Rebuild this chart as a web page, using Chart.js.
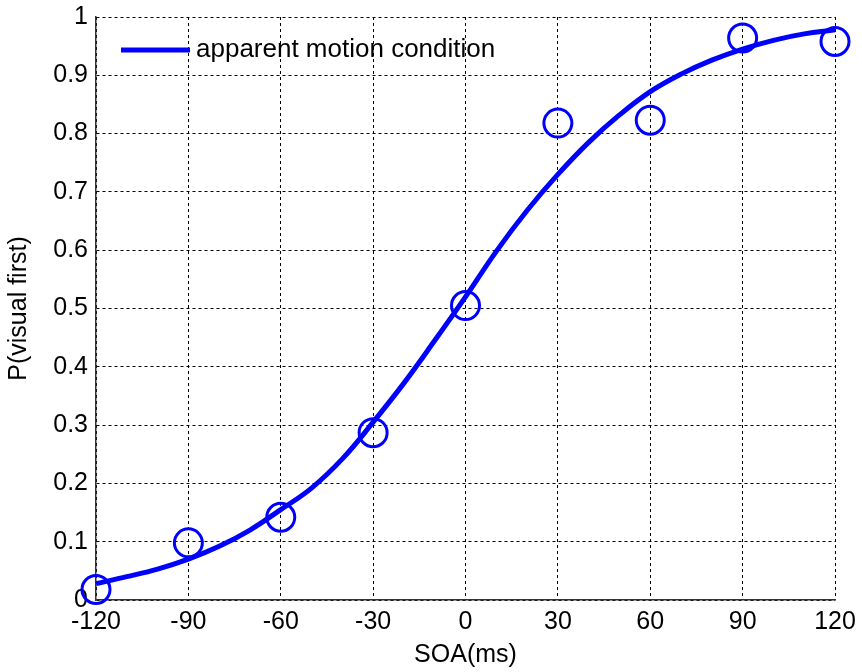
<!DOCTYPE html>
<html>
<head>
<meta charset="utf-8">
<script src="https://cdn.jsdelivr.net/npm/chart.js@4/dist/chart.umd.min.js"></script>
<style>
  html, body { margin: 0; padding: 0; background: #fff; }
  #wrap { width: 862px; height: 672px; }
</style>
</head>
<body>
<div id="wrap"><canvas id="myChart" width="862" height="672"></canvas></div>
<script>
    // observed proportions (circles)
    var soaObs  = [-120, -90, -60, -30, 0, 30, 60, 90, 120];
    var pObs    = [0.018, 0.098, 0.142, 0.287, 0.505, 0.818, 0.823, 0.964, 0.958];
    // fitted curve, every 10 ms
    var soaFit  = [-120, -110, -100, -90, -80, -70, -60, -50, -40, -30, -20, -10, 0, 10, 20, 30, 40, 50, 60, 70, 80, 90, 100, 110, 120];
    var pFit    = [0.028, 0.040, 0.053, 0.070, 0.092, 0.120, 0.155, 0.192, 0.242, 0.305, 0.372, 0.445, 0.520, 0.598, 0.668, 0.730, 0.785, 0.832, 0.872, 0.902, 0.926, 0.945, 0.960, 0.971, 0.978];
    var xTicks  = [-120, -90, -60, -30, 0, 30, 60, 90, 120];
    var yTicks  = [0, 0.1, 0.2, 0.3, 0.4, 0.5, 0.6, 0.7, 0.8, 0.9, 1];
    var legendLabel = 'apparent motion condition';

    const blue = '#0000ff';
    const font = {family: 'Arial, "Liberation Sans", sans-serif', size: 25};

    // legend drawn inside the axes, matlab style
    const insideLegend = {
        id: 'insideLegend',
        afterDraw(chart) {
            const ctx = chart.ctx;
            ctx.save();
            ctx.strokeStyle = blue;
            ctx.lineWidth = 5;
            ctx.beginPath();
            ctx.moveTo(121, 50);
            ctx.lineTo(190, 50);
            ctx.stroke();
            ctx.fillStyle = '#000';
            ctx.font = '26px ' + font.family;
            ctx.textBaseline = 'middle';
            ctx.fillText(legendLabel, 196, 50);
            ctx.restore();
        }
    };

    const data = {
        datasets: [
            {label: 'fit', data: soaFit.map((x, i) => ({x: x, y: pFit[i]})), showLine: true, borderColor: blue, borderWidth: 5, pointRadius: 0, tension: 0.4, fill: false},
            {label: 'obs', data: soaObs.map((x, i) => ({x: x, y: pObs[i]})), showLine: false, borderColor: blue, backgroundColor: 'rgba(0,0,0,0)', borderWidth: 3, pointRadius: 14, pointHoverRadius: 14}
        ]
    };

    const config = {
        type: 'scatter',
        data: data,
        plugins: [insideLegend],
        options: {
            responsive: false,
            animation: false,
            clip: false,
            layout: {padding: {top: 16, right: 27, left: 0, bottom: 0}},
            plugins: {legend: {display: false}, tooltip: {enabled: false}},
            scales: {
                x: {
                    type: 'linear', min: -120, max: 120,
                    afterBuildTicks: s => { s.ticks = xTicks.map(v => ({value: v})); },
                    afterFit: s => { s.height = 72; s.paddingLeft = 0; s.paddingRight = 0; },
                    ticks: {color: '#000', font: font, padding: 7},
                    grid: {color: '#000', lineWidth: 1, drawTicks: false},
                    border: {color: '#333', width: 1.5, dash: [3, 3]},
                    title: {display: true, text: 'SOA(ms)', color: '#000', font: font, padding: {top: 4, bottom: 2}}
                },
                y: {
                    min: 0, max: 1,
                    afterBuildTicks: s => { s.ticks = yTicks.map(v => ({value: v})); },
                    afterFit: s => { s.width = 96; s.paddingTop = 0; s.paddingBottom = 0; },
                    ticks: {color: '#000', font: font, padding: 8, callback: v => String(v)},
                    grid: {color: '#000', lineWidth: 1, drawTicks: false},
                    border: {color: '#333', width: 1.5, dash: [3, 3]},
                    title: {display: true, text: 'P(visual first)', color: '#000', font: font, padding: 4}
                }
            }
        }
    };
    const myChart = new Chart(document.querySelector('#myChart'), config);
</script>
</body>
</html>
